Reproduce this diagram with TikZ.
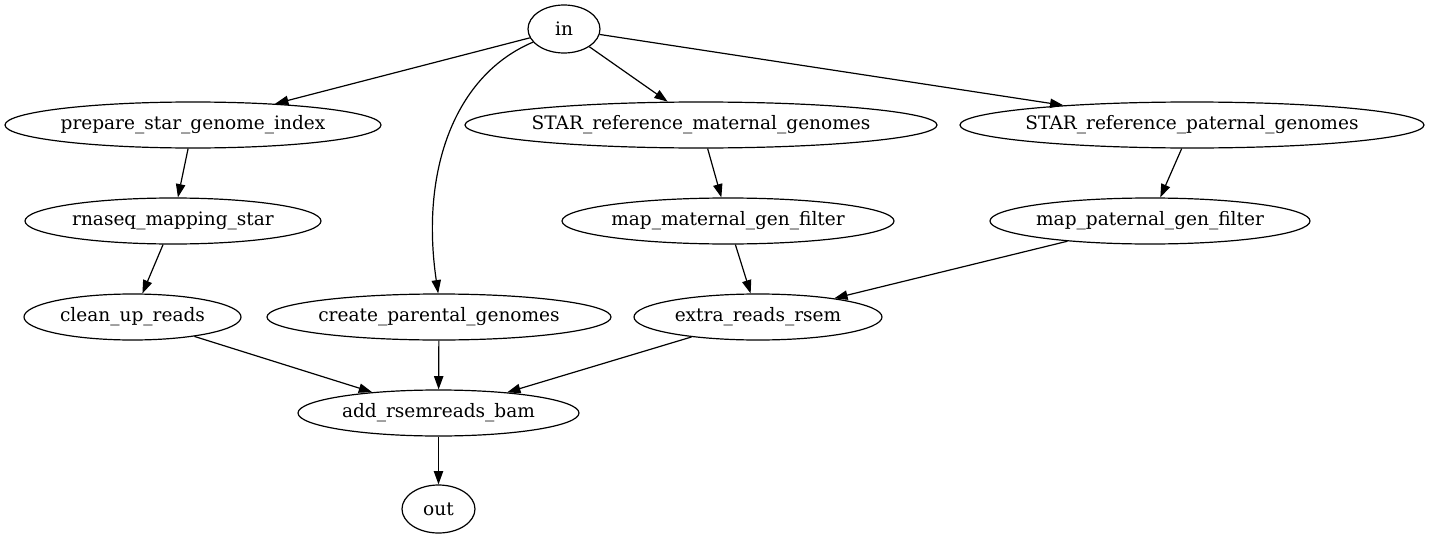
\documentclass[tikz,border=0pt]{standalone}
\usepackage{fontspec}
\setmainfont{DejaVu Serif}
\usetikzlibrary{shapes.geometric,arrows.meta}
\begin{document}
\begin{tikzpicture}[x=0.75pt,y=-0.75pt,
  ell/.style={draw,ellipse,inner sep=0pt,line width=0.9pt,font=\fontsize{13.9}{16}\selectfont},
  edge/.style={line width=0.9pt,-{Triangle[length=10pt,width=7pt]}}]
\useasboundingbox (0,0) rectangle (1429,539);
\newcommand{\ellnode}[6]{\node[ell,minimum width=#4*1.5pt,minimum height=#5*1.5pt] (#1) at (#2,#3) {\makebox[0pt]{#6}};}
\ellnode{in}{564}{29}{36}{24}{in}
\ellnode{prep}{193}{125}{188}{23}{prepare\_star\_genome\_index}
\ellnode{smat}{701}{125}{236}{23}{STAR\_reference\_maternal\_genomes}
\ellnode{spat}{1192}{125}{232}{23}{STAR\_reference\_paternal\_genomes}
\ellnode{rna}{173}{221}{148}{23}{rnaseq\_mapping\_star}
\ellnode{mmat}{728}{221}{166}{23}{map\_maternal\_gen\_filter}
\ellnode{mpat}{1150}{221}{160}{23}{map\_paternal\_gen\_filter}
\ellnode{clean}{132.5}{317}{108.5}{23}{clean\_up\_reads}
\ellnode{create}{439}{317}{172}{23}{create\_parental\_genomes}
\ellnode{extra}{758}{317}{124}{23}{extra\_reads\_rsem}
\ellnode{add}{438.5}{413}{140.5}{23}{add\_rsemreads\_bam}
\ellnode{out}{438.5}{509}{36.5}{24}{out}
\draw[edge] (in) -- (prep);
\draw[edge] (in) -- (smat);
\draw[edge] (in) -- (spat);
\draw[edge] (in.203) .. controls (455,75) and (420,170) .. (create.92);
\draw[edge] (prep) -- (rna);
\draw[edge] (rna) -- (clean);
\draw[edge] (smat) -- (mmat);
\draw[edge] (spat) -- (mpat);
\draw[edge] (mmat) -- (extra);
\draw[edge] (mpat) -- (extra);
\draw[edge] (clean) -- (add);
\draw[edge] (create) -- (add);
\draw[edge] (extra) -- (add);
\draw[edge] (add) -- (out);
\end{tikzpicture}
\end{document}
